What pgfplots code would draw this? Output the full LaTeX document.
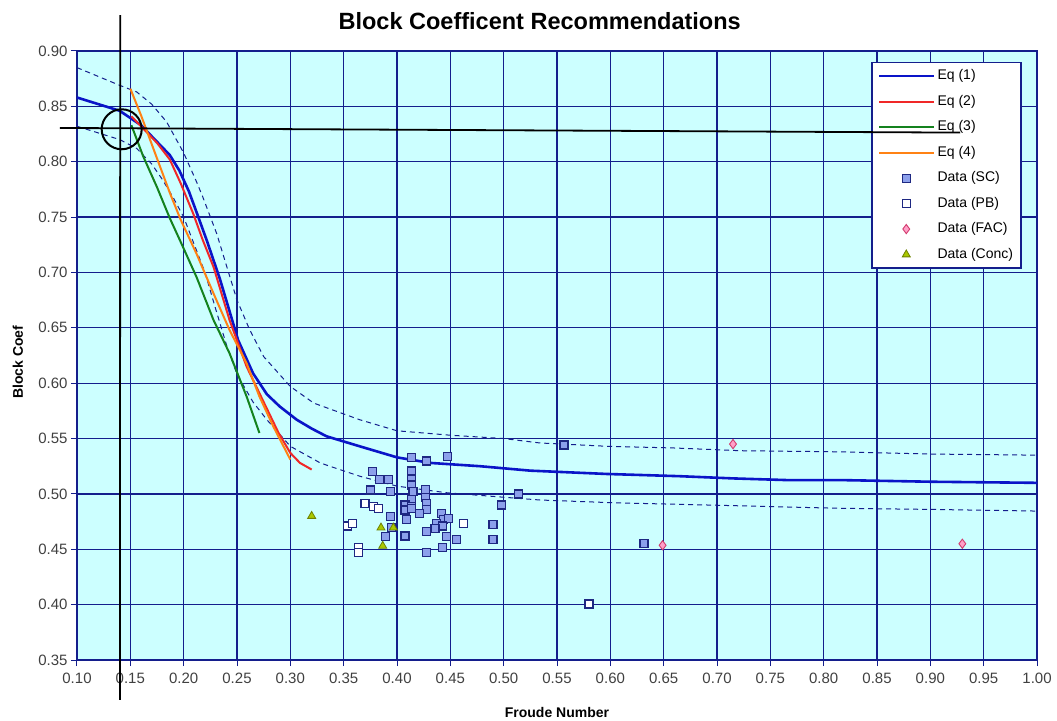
\documentclass[border=0pt]{standalone}
\usepackage{pgfplots}
\pgfplotsset{compat=1.18}
\usepackage{fontspec}
\setmainfont{Liberation Sans}
\definecolor{navy}{RGB}{20,30,140}
\definecolor{bgcyan}{RGB}{204,255,255}
\definecolor{eqone}{RGB}{10,20,200}
\definecolor{eqtwo}{RGB}{240,40,40}
\definecolor{eqthree}{RGB}{20,130,30}
\definecolor{eqfour}{RGB}{255,130,20}
\definecolor{scfill}{RGB}{140,160,235}
\definecolor{scdraw}{RGB}{30,40,130}
\definecolor{facfill}{RGB}{255,160,200}
\definecolor{facdraw}{RGB}{210,60,110}
\definecolor{concfill}{RGB}{170,200,0}
\definecolor{concdraw}{RGB}{110,130,0}
\begin{document}
\begin{tikzpicture}
\begin{axis}[
  set layers,
  scale only axis, width=960pt, height=609pt,
  at={(0pt,0pt)}, anchor=south west,
  xmin=0.1, xmax=1.0, ymin=0.35, ymax=0.9,
  clip=false,
  axis background/.style={fill=bgcyan},
  axis line style={navy, line width=1.8pt},
  grid=major,
  major grid style={navy, line width=1.3pt},
  xtick={0.10,0.15,0.20,0.25,0.30,0.35,0.40,0.45,0.50,0.55,0.60,0.65,0.70,0.75,0.80,0.85,0.90,0.95,1.00},
  xticklabels={0.10,0.15,0.20,0.25,0.30,0.35,0.40,0.45,0.50,0.55,0.60,0.65,0.70,0.75,0.80,0.85,0.90,0.95,1.00},
  ytick={0.35,0.40,0.45,0.50,0.55,0.60,0.65,0.70,0.75,0.80,0.85,0.90},
  yticklabels={0.35,0.40,0.45,0.50,0.55,0.60,0.65,0.70,0.75,0.80,0.85,0.90},
  xtick pos=lower, ytick pos=left,
  tick align=outside,
  major tick length=6pt,
  tick style={navy, line width=1pt},
  ticklabel style={font=\fontsize{15}{18}\selectfont, text=black!75},
  xticklabel style={yshift=-3pt},
  title={Block Coefficent Recommendations},
  title style={font=\fontsize{23.5}{28}\selectfont\bfseries, at={(axis description cs:0.482,1.04)}, anchor=center},
  xlabel={Froude Number},
  xlabel style={font=\fontsize{14}{17}\selectfont\bfseries, at={(axis description cs:0.5,-0.0854)}, anchor=center},
  ylabel={Block Coef},
  ylabel style={font=\fontsize{14}{17}\selectfont\bfseries, at={(axis description cs:-0.0615,0.489)}, anchor=center},
  legend style={at={(axis description cs:0.984,0.982)}, anchor=north east,
    draw=navy, line width=1.2pt, fill=white,
    font=\fontsize{14}{17}\selectfont,
    nodes={inner sep=2pt, anchor=west, text height=10pt, text depth=3pt},
    row sep=8.5pt, inner xsep=6pt, inner ysep=5pt},
  legend cell align=left,
  legend image code/.code={\draw[mark repeat=2,mark phase=2,#1] plot coordinates {(0pt,0pt) (27pt,0pt) (55pt,0pt)};},
]
% dashed bands
\addplot[navy, line width=1pt, dash pattern=on 5pt off 4pt, forget plot] coordinates {
(0.100,0.885)(0.120,0.877)(0.140,0.869)(0.156,0.863)(0.170,0.852)(0.184,0.836)(0.200,0.808)(0.212,0.782)(0.218,0.768)(0.231,0.735)(0.250,0.675)(0.262,0.648)(0.275,0.624)(0.300,0.597)(0.322,0.582)(0.365,0.567)(0.400,0.557)(0.450,0.553)(0.500,0.550)(0.534,0.546)(0.597,0.543)(0.659,0.5415)(0.722,0.539)(0.815,0.538)(0.900,0.536)(1.000,0.535)};
\addplot[navy, line width=1pt, dash pattern=on 5pt off 4pt, forget plot] coordinates {
(0.100,0.832)(0.120,0.826)(0.140,0.820)(0.156,0.812)(0.170,0.798)(0.180,0.784)(0.190,0.768)(0.200,0.750)(0.210,0.725)(0.220,0.700)(0.230,0.667)(0.240,0.635)(0.250,0.608)(0.265,0.583)(0.278,0.567)(0.300,0.543)(0.328,0.528)(0.337,0.525)(0.365,0.516)(0.400,0.507)(0.447,0.501)(0.500,0.497)(0.534,0.4945)(0.603,0.492)(0.690,0.490)(0.815,0.487)(0.900,0.486)(1.000,0.4845)};
% Eq (1)
\addplot[eqone, line width=2.6pt, mark=none] coordinates {
(0.100,0.858)(0.120,0.852)(0.140,0.846)(0.160,0.833)(0.175,0.818)(0.187,0.806)(0.196,0.792)(0.205,0.773)(0.213,0.752)(0.222,0.728)(0.234,0.694)(0.243,0.665)(0.251,0.639)(0.265,0.609)(0.278,0.590)(0.290,0.579)(0.306,0.567)(0.320,0.559)(0.334,0.552)(0.365,0.543)(0.400,0.533)(0.431,0.528)(0.478,0.525)(0.525,0.521)(0.597,0.518)(0.665,0.516)(0.715,0.514)(0.765,0.5125)(0.815,0.5125)(0.900,0.511)(1.000,0.510)};
\addlegendentry{Eq (1)}
% Eq (2)
\addplot[eqtwo, line width=2pt, mark=none] coordinates {
(0.151,0.841)(0.160,0.832)(0.175,0.817)(0.187,0.802)(0.197,0.781)(0.209,0.753)(0.218,0.729)(0.228,0.705)(0.243,0.657)(0.259,0.615)(0.271,0.591)(0.289,0.555)(0.300,0.537)(0.309,0.528)(0.320,0.522)};
\addlegendentry{Eq (2)}
% Eq (3)
\addplot[eqthree, line width=2pt, mark=none] coordinates {
(0.151,0.833)(0.162,0.805)(0.175,0.777)(0.187,0.749)(0.197,0.728)(0.212,0.696)(0.228,0.657)(0.243,0.627)(0.259,0.588)(0.271,0.555)};
\addlegendentry{Eq (3)}
% Eq (4)
\addplot[eqfour, line width=2pt, mark=none] coordinates {
(0.150,0.866)(0.160,0.842)(0.175,0.803)(0.187,0.772)(0.197,0.748)(0.212,0.717)(0.228,0.681)(0.243,0.648)(0.259,0.618)(0.271,0.588)(0.284,0.561)(0.300,0.531)};
\addlegendentry{Eq (4)}
% Data (SC)
\addplot[only marks, mark=square*, mark size=4pt, mark options={fill=scfill, draw=scdraw, line width=1.1pt}] coordinates {
(0.4138,0.533)(0.428,0.5297)(0.447,0.534)(0.377,0.520)(0.414,0.5207)(0.384,0.513)(0.392,0.513)(0.414,0.513)(0.414,0.508)(0.375,0.5035)(0.394,0.502)(0.415,0.502)(0.427,0.504)(0.414,0.495)(0.427,0.497)(0.514,0.4999)(0.4075,0.490)(0.414,0.489)(0.428,0.4915)(0.498,0.490)(0.4075,0.4855)(0.414,0.487)(0.428,0.486)(0.4215,0.4825)(0.442,0.4825)(0.394,0.480)(0.409,0.477)(0.4435,0.477)(0.448,0.478)(0.437,0.4735)(0.443,0.471)(0.490,0.472)(0.395,0.470)(0.4356,0.469)(0.428,0.466)(0.4075,0.462)(0.389,0.4614)(0.4466,0.4614)(0.456,0.459)(0.490,0.459)(0.443,0.4515)(0.428,0.447)(0.5566,0.5442)(0.6316,0.4554)};
\addlegendentry{Data (SC)}
% Data (PB)
\addplot[only marks, mark=square*, mark size=4pt, mark options={fill=white, draw=scdraw, line width=1.1pt}] coordinates {
(0.354,0.471)(0.3585,0.4735)(0.364,0.452)(0.364,0.447)(0.370,0.4915)(0.378,0.4885)(0.383,0.487)(0.462,0.4735)(0.580,0.4006)};
\addlegendentry{Data (PB)}
% Data (FAC)
\addplot[only marks, mark=diamond*, mark size=4.6pt, mark options={fill=facfill, draw=facdraw, line width=0.9pt}] coordinates {
(0.715,0.545)(0.649,0.4536)(0.930,0.455)};
\addlegendentry{Data (FAC)}
% Data (Conc)
\addplot[only marks, mark=triangle*, mark size=4.6pt, mark options={fill=concfill, draw=concdraw, line width=0.8pt}] coordinates {
(0.320,0.480)(0.385,0.4695)(0.3966,0.4695)(0.3866,0.453)};
\addlegendentry{Data (Conc)}
% annotation lines on top
\addplot[black, line width=1.8pt, forget plot, on layer=axis foreground] coordinates {(0.1405,0.9325)(0.1403,0.314)};
\addplot[black, line width=1.8pt, forget plot, on layer=axis foreground] coordinates {(0.084,0.8305)(0.928,0.8263)};
\addplot[only marks, mark=o, mark size=20pt, mark options={black, line width=2pt}, forget plot, on layer=axis foreground] coordinates {(0.1419,0.8293)};
\end{axis}
\pgfresetboundingbox
\path (-77pt,-60pt) rectangle (980pt,660pt);
\end{tikzpicture}
\end{document}
